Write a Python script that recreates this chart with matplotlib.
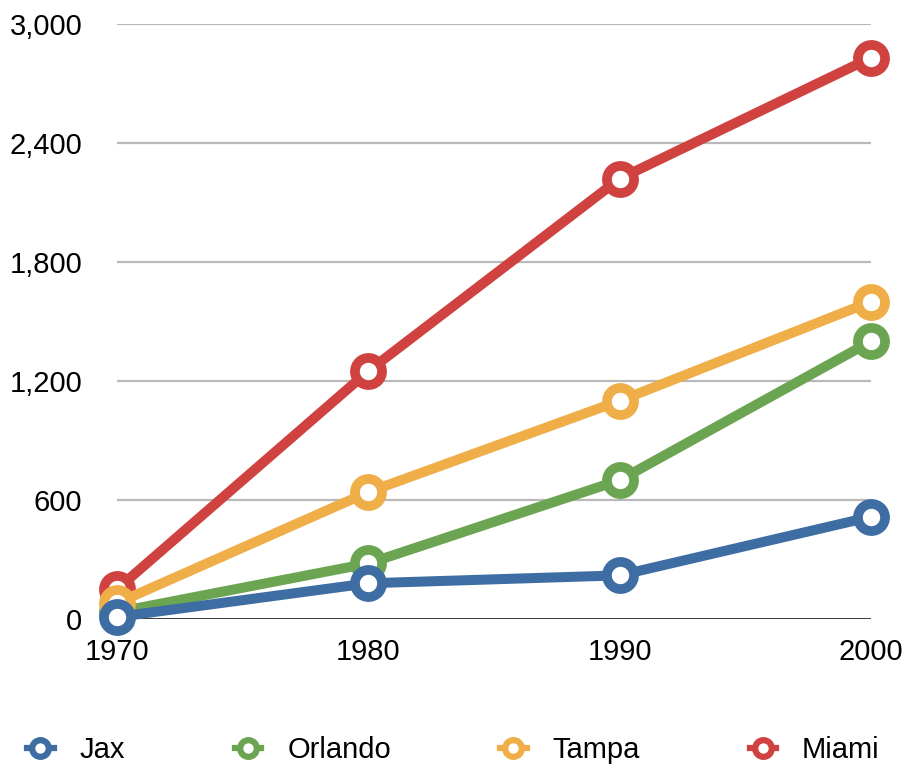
import matplotlib
matplotlib.use("Agg")
import matplotlib.pyplot as plt
from matplotlib.ticker import FuncFormatter
from matplotlib.lines import Line2D

plt.rcParams['font.family'] = ['Liberation Sans', 'DejaVu Sans']

years = [1970, 1980, 1990, 2000]
jax = [10, 180, 220, 515]
orlando = [35, 280, 700, 1400]
tampa = [80, 640, 1100, 1600]
miami = [150, 1250, 2220, 2830]

y_ticks = [0, 600, 1200, 1800, 2400, 3000]

colors = {
    'Jax': '#3d6da2',
    'Orlando': '#6ba551',
    'Tampa': '#efae47',
    'Miami': '#cf423f',
}

fig = plt.figure(figsize=(9.07, 7.72), dpi=100)
ax = fig.add_axes([0.129, 0.1982, 0.8313, 0.7707])

# grid + black baseline
for t in y_ticks[1:]:
    ax.axhline(t, color='#b9b9b9', lw=1.6, zorder=0)
ax.axhline(0, color='black', lw=1.8, zorder=1)

series = [('Miami', miami), ('Orlando', orlando), ('Tampa', tampa), ('Jax', jax)]
for i, (name, vals) in enumerate(series):
    ax.plot(years, vals, color=colors[name], lw=7.2, marker='o',
            ms=19.5, mew=7.0, mfc='white', mec=colors[name],
            zorder=3 + i, clip_on=False, solid_capstyle='round')

ax.set_xlim(1970, 2000)
ax.set_ylim(0, 3000)
ax.set_xticks(years)
ax.set_yticks(y_ticks)
ax.yaxis.set_major_formatter(FuncFormatter(lambda v, p: f"{int(v):,}"))
ax.tick_params(length=0, labelsize=21)
ax.tick_params(axis='y', pad=25)
ax.tick_params(axis='x', pad=14)
for s in ax.spines.values():
    s.set_visible(False)

# legend with small ring markers
order = ['Jax', 'Orlando', 'Tampa', 'Miami']
leg_handles = [Line2D([], [], color=colors[n], lw=4.5, marker='o', ms=12,
                      mew=4.5, mfc='white', mec=colors[n]) for n in order]
fig.legend(leg_handles, order, loc='center', bbox_to_anchor=(0.5, 0.028),
           ncol=4, frameon=False, fontsize=21, handlelength=0.9,
           handletextpad=0.9, columnspacing=3.75)

fig.savefig('out.png', dpi=100)
